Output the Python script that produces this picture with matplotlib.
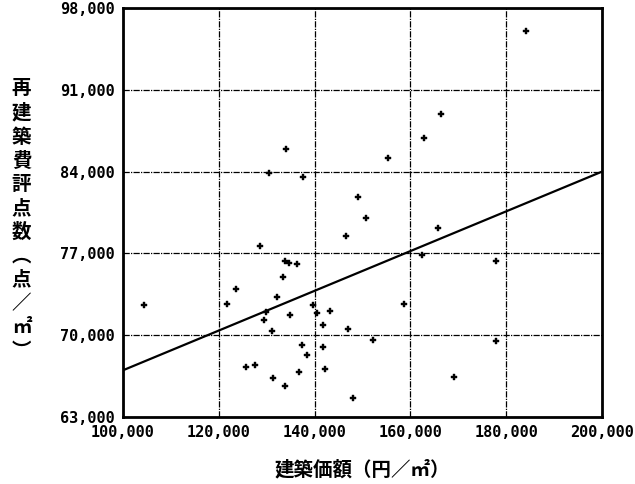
import matplotlib.pyplot as plt
from matplotlib.ticker import FuncFormatter

plt.rcParams['font.family'] = ['Noto Sans CJK JP', 'DejaVu Sans']

# 建築価額 (円/m2) and 再建築費評点数 (点/m2)
price = [184100, 166400, 162800, 155300, 134000, 130500, 137600, 149100,
         150700, 146600, 165800, 128600, 133800, 134700, 136300, 133400,
         132200, 123600, 104400, 121700, 129900, 129400, 134900, 131100,
         137400, 138400, 125700, 127600, 131300, 133800, 136700, 139700,
         140500, 143200, 141800, 147000, 152200, 158700, 141800, 142200,
         148000, 162400, 177900, 177900, 169100]
score = [96000, 88900, 86900, 85200, 85900, 83900, 83500, 81800,
         80000, 78500, 79200, 77600, 76350, 76200, 76100, 75000,
         73300, 73950, 72600, 72700, 72000, 71300, 71700, 70400,
         69200, 68300, 67300, 67450, 66300, 65650, 66850, 72600,
         71900, 72100, 70900, 70500, 69600, 72700, 69000, 67100,
         64600, 76900, 76350, 69500, 66400]

# regression line end points
line_x = [100000, 200000]
line_y = [67000, 84000]

x_ticks = [100000, 120000, 140000, 160000, 180000, 200000]
y_ticks = [63000, 70000, 77000, 84000, 91000, 98000]

fig = plt.figure(figsize=(6.35, 4.84), dpi=100)
ax = fig.add_axes([0.1937, 0.1384, 0.7543, 0.845])

ax.plot(price, score, linestyle='none', marker='P', markersize=4.5,
        color='black', markeredgewidth=0.3)
ax.plot(line_x, line_y, color='black', linewidth=1.6)

ax.set_xlim(100000, 200000)
ax.set_ylim(63000, 98000)
ax.set_xticks(x_ticks)
ax.set_yticks(y_ticks)
fmt = FuncFormatter(lambda v, p: f'{int(v):,}')
ax.xaxis.set_major_formatter(fmt)
ax.yaxis.set_major_formatter(fmt)
ax.tick_params(length=0, pad=6)
for lab in ax.get_xticklabels() + ax.get_yticklabels():
    lab.set_family('DejaVu Sans Mono')
    lab.set_fontweight('bold')
    lab.set_fontsize(11)

ax.grid(True, color='black', linewidth=0.9, linestyle=(0, (5, 1, 1, 1)))
for s in ax.spines.values():
    s.set_linewidth(2)
    s.set_color('black')

ax.set_xlabel('建築価額（円／㎡）', fontsize=14, fontweight='bold', labelpad=14)

ylab = '再建築費評点数︵点／㎡︶'
fig.text(0.034, 0.545, '\n'.join(ylab), fontsize=14, fontweight='bold',
         ha='center', va='center', linespacing=1.32)

plt.savefig('out.png', dpi=100)
